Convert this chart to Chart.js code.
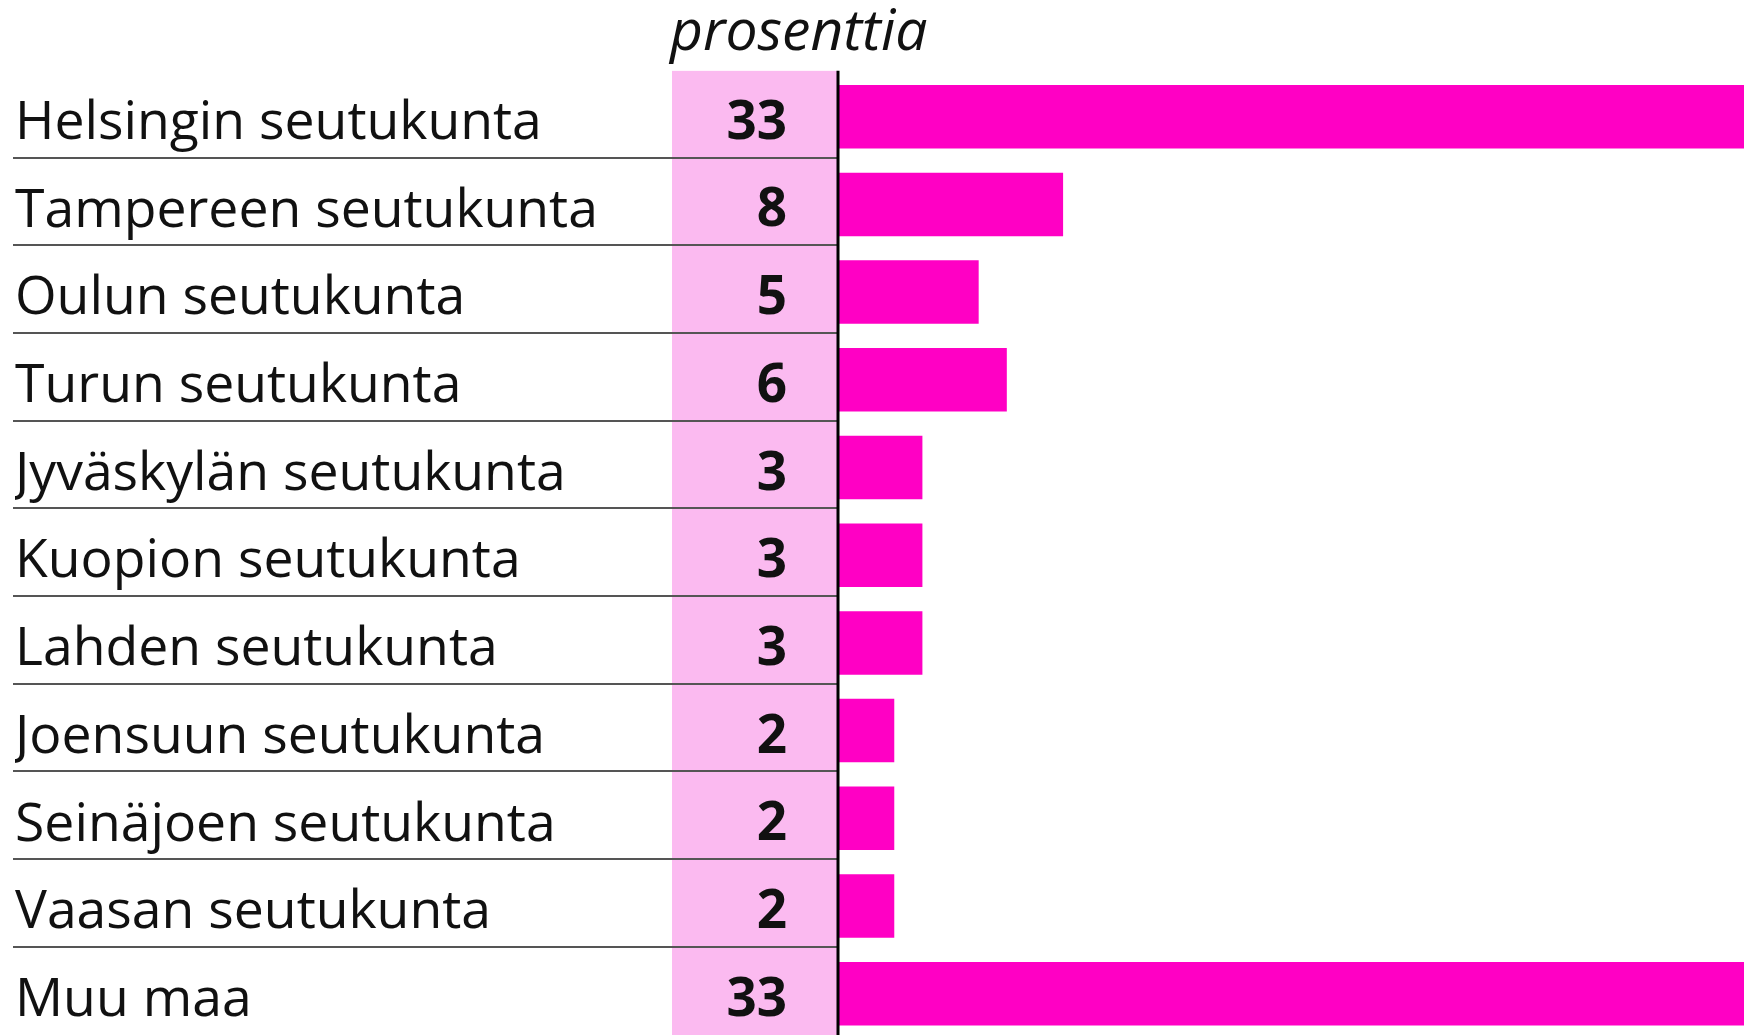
<!DOCTYPE html>
<html lang="fi">
<head>
<meta charset="utf-8">
<title>Seutukunnat</title>
<script src="https://cdn.jsdelivr.net/npm/chart.js@4.4.0/dist/chart.umd.min.js"></script>
<style>
  html, body { margin: 0; padding: 0; background: #fff; overflow: hidden; }
  #wrap { width: 1744px; height: 1040px; }
</style>
</head>
<body>
<div id="wrap"><canvas id="kuvio" width="1744" height="1040"></canvas></div>
<script>
// --- Data ---
const alueet = [
  'Helsingin seutukunta',
  'Tampereen seutukunta',
  'Oulun seutukunta',
  'Turun seutukunta',
  'Jyväskylän seutukunta',
  'Kuopion seutukunta',
  'Lahden seutukunta',
  'Joensuun seutukunta',
  'Seinäjoen seutukunta',
  'Vaasan seutukunta',
  'Muu maa'
];
const osuudet = [33, 8, 5, 6, 3, 3, 3, 2, 2, 2, 33];
const yksikko = 'prosenttia';

const FONTTI = '"Open Sans", "Noto Sans", sans-serif';
const PINKKI = '#ff00c4';
const VAALEA = '#fbbaf0';
const TEKSTI = '#111111';

// taustasarake, erottimet ja luvut piirretään itse
const taulukko = {
  id: 'taulukko',
  beforeDatasetsDraw(chart) {
    const { ctx, chartArea, scales } = chart;
    const y = scales.y;
    ctx.save();
    // vaaleanpunainen lukusarake
    ctx.fillStyle = VAALEA;
    ctx.fillRect(672, chartArea.top - 2, chartArea.left - 672, chart.height - chartArea.top + 2);
    // erotinviivat rivien väliin
    ctx.strokeStyle = '#555555';
    ctx.lineWidth = 2;
    for (let i = 0; i < alueet.length - 1; i++) {
      const yy = Math.round((y.getPixelForValue(i) + y.getPixelForValue(i + 1)) / 2 - 3);
      ctx.beginPath();
      ctx.moveTo(13, yy);
      ctx.lineTo(chartArea.left, yy);
      ctx.stroke();
    }
    // luvut
    ctx.fillStyle = TEKSTI;
    ctx.font = 'bold 53px ' + FONTTI;
    ctx.textAlign = 'right';
    ctx.textBaseline = 'middle';
    osuudet.forEach(function(v, i) {
      ctx.fillText(String(v), 787, y.getPixelForValue(i) + 7);
    });
    // otsikko
    ctx.font = 'italic 57px ' + FONTTI;
    ctx.textAlign = 'left';
    ctx.textBaseline = 'alphabetic';
    ctx.fillText(yksikko, 670, 50);
    ctx.restore();
  },
  afterDatasetsDraw(chart) {
    const { ctx, chartArea } = chart;
    ctx.save();
    ctx.strokeStyle = '#000000';
    ctx.lineWidth = 3;
    ctx.beginPath();
    ctx.moveTo(chartArea.left, chartArea.top - 2);
    ctx.lineTo(chartArea.left, chart.height);
    ctx.stroke();
    ctx.restore();
  }
};

function piirra() {
  const ctx = document.getElementById('kuvio').getContext('2d');
  new Chart(ctx, {
    type: 'bar',
    data: {
      labels: alueet,
      datasets: [{
        data: osuudet,
        backgroundColor: PINKKI,
        borderWidth: 0,
        barPercentage: 0.724,
        categoryPercentage: 1
      }]
    },
    options: {
      indexAxis: 'y',
      responsive: false,
      animation: false,
      events: [],
      layout: { padding: { top: 72.85, left: 15, right: 0, bottom: 2.45 } },
      plugins: {
        legend: { display: false },
        tooltip: { enabled: false },
        title: { display: false }
      },
      scales: {
        x: { display: false, min: 0, max: 32.2 },
        y: {
          grid: { display: false },
          border: { display: false },
          ticks: {
            crossAlign: 'far',
            padding: 0,
            labelOffset: 7,
            color: TEKSTI,
            // pieni rivikorkeus, ettei akseli varaa tilaa ylä- ja alapuolelta
            font: { family: FONTTI, size: 53.5, lineHeight: 0.05 }
          },
          afterFit: function(scale) { scale.width = 823; }
        }
      }
    },
    plugins: [taulukko]
  });
}

document.addEventListener('DOMContentLoaded', function() {
  Promise.all([
    document.fonts.load('53px "Open Sans"'),
    document.fonts.load('bold 53px "Open Sans"'),
    document.fonts.load('italic 57px "Open Sans"')
  ]).then(piirra, piirra);
});
</script>
</body>
</html>
